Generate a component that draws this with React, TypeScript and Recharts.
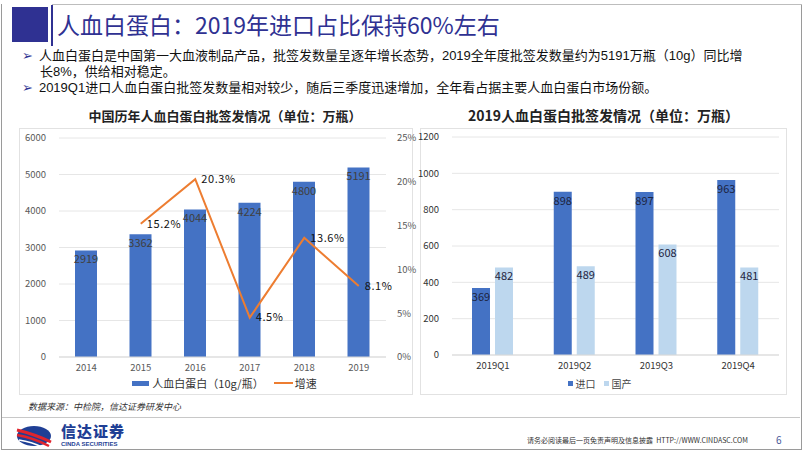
import React from 'react'
import {
  ComposedChart, BarChart, Bar, Line, XAxis, YAxis, CartesianGrid, LabelList, Legend,
} from 'recharts'

// 中国历年人血白蛋白批签发情况（单位：万瓶）
const years = ['2014', '2015', '2016', '2017', '2018', '2019']
const volumes = [2919, 3362, 4044, 4224, 4800, 5191]
const growth: (number | null)[] = [null, 15.2, 20.3, 4.5, 13.6, 8.1]
const leftTicks = [0, 1000, 2000, 3000, 4000, 5000, 6000]
const rightTicks = [0, 5, 10, 15, 20, 25]

// 2019人血白蛋白批签发情况（单位：万瓶）
const quarters = ['2019Q1', '2019Q2', '2019Q3', '2019Q4']
const imported = [369, 898, 897, 963]
const domestic = [482, 489, 608, 481]
const qTicks = [0, 200, 400, 600, 800, 1000, 1200]

const yearData = years.map((y, i) => ({ year: y, volume: volumes[i], growth: growth[i] }))
const quarterData = quarters.map((q, i) => ({ q, imported: imported[i], domestic: domestic[i] }))

const FONT = '"Noto Sans CJK SC", "Noto Sans", sans-serif'
const BLUE = '#4472C4'
const LIGHT = '#BDD7EE'
const ORANGE = '#ED7D31'
const AXIS = { fontSize: 9.5, fill: '#595959', fontFamily: FONT }

const LeftLegend = () => (
  <div style={{ display: 'flex', justifyContent: 'center', alignItems: 'center', height: 12,
    fontSize: 11, color: '#333', fontFamily: FONT, paddingLeft: 15, whiteSpace: 'nowrap' }}>
    <span style={{ width: 17, height: 5, background: BLUE, marginRight: 3 }} />
    <span>人血白蛋白（10g/瓶）</span>
    <span style={{ width: 19, height: 2, background: ORANGE, marginLeft: 10, marginRight: 2 }} />
    <span>增速</span>
  </div>
)

const RightLegend = () => (
  <div style={{ display: 'flex', justifyContent: 'center', alignItems: 'center', height: 12,
    fontSize: 10, color: '#444', fontFamily: FONT, paddingLeft: 4, whiteSpace: 'nowrap' }}>
    <span style={{ width: 5, height: 5, background: BLUE, marginRight: 3 }} />
    <span>进口</span>
    <span style={{ width: 5, height: 5, background: LIGHT, marginLeft: 8, marginRight: 3 }} />
    <span>国产</span>
  </div>
)

const BULLET_FONT = '"Liberation Sans", "Noto Sans CJK SC", sans-serif'

export default function App() {
  return (
    <div style={{ position: 'absolute', left: 0, top: 0, width: 802, height: 451,
      background: '#fff', overflow: 'hidden', fontFamily: FONT }}>
      {/* slide frame */}
      <div style={{ position: 'absolute', left: 1, top: 4, width: 799, height: 445,
        borderLeft: '1px solid #9a9a9a', borderRight: '1px solid #9a9a9a', borderBottom: '1px solid #9a9a9a' }} />
      <div style={{ position: 'absolute', left: 52, top: 4, width: 750, height: 1, background: '#bdbdbd' }} />

      {/* header */}
      <div style={{ position: 'absolute', left: 12, top: 7, width: 36, height: 35, background: '#2f3192' }} />
      <div style={{ position: 'absolute', left: 51, top: 5, width: 2, height: 41, background: '#2f3192' }} />
      <div style={{ position: 'absolute', left: 57, top: 8, fontSize: 23, color: '#2f3192',
        whiteSpace: 'nowrap', lineHeight: '32px' }}>
        人血白蛋白：2019年进口占比保持60%左右
      </div>

      {/* bullets */}
      <div style={{ position: 'absolute', left: 22, top: 48, fontSize: 13, color: '#111',
        lineHeight: '16px', whiteSpace: 'nowrap', fontFamily: BULLET_FONT }}>
        <div><span style={{ fontFamily: 'DejaVu Sans', color: '#2f3192', marginRight: 6 }}>➢</span>人血白蛋白是中国第一大血液制品产品，批签发数量呈逐年增长态势，2019全年度批签发数量约为5191万瓶（10g）同比增</div>
        <div style={{ paddingLeft: 18 }}>长8%，供给相对稳定。</div>
        <div><span style={{ fontFamily: 'DejaVu Sans', color: '#2f3192', marginRight: 6 }}>➢</span>2019Q1进口人血白蛋白批签发数量相对较少，随后三季度迅速增加，全年看占据主要人血白蛋白市场份额。</div>
      </div>

      {/* left chart */}
      <div style={{ position: 'absolute', left: 19, top: 106, width: 394, textAlign: 'center',
        fontSize: 13, fontWeight: 700, color: '#222', paddingLeft: 18, boxSizing: 'border-box' }}>
        中国历年人血白蛋白批签发情况（单位：万瓶）
      </div>
      <div style={{ position: 'absolute', left: 19, top: 128, width: 394, height: 267,
        border: '1px solid #e2e2e2', boxSizing: 'border-box' }} />
      <div style={{ position: 'absolute', left: 16, top: 128 }}>
        <ComposedChart width={402} height={267} data={yearData}
          margin={{ top: 10, right: 0, left: 0, bottom: 6 }}>
          <CartesianGrid vertical={false} stroke="#e6e6e6" yAxisId="l" />
          <XAxis dataKey="year" tick={AXIS} axisLine={{ stroke: '#d9d9d9' }} tickLine={false}
            height={20} tickMargin={1} />
          <YAxis yAxisId="l" domain={[0, 6000]} ticks={leftTicks} width={43} tick={AXIS}
            axisLine={false} tickLine={false} tickMargin={7} />
          <YAxis yAxisId="r" orientation="right" domain={[0, 25]} ticks={rightTicks} width={32}
            tick={AXIS} axisLine={false} tickLine={false} tickMargin={5}
            tickFormatter={(v: number) => `${v}%`} />
          <Legend verticalAlign="bottom" height={12} content={() => <LeftLegend />} />
          <Bar yAxisId="l" dataKey="volume" fill={BLUE} barSize={22} isAnimationActive={false}>
            <LabelList dataKey="volume" position="insideTop" offset={5}
              style={{ fontSize: 11, fill: '#404040', fontFamily: FONT }} />
          </Bar>
          <Line yAxisId="r" dataKey="growth" stroke={ORANGE} strokeWidth={2} dot={false}
            isAnimationActive={false}>
            <LabelList dataKey="growth" position="right" offset={6}
              formatter={(v: any) => (v == null ? '' : `${v}%`)}
              style={{ fontSize: 11, fill: '#111', fontFamily: FONT, letterSpacing: 0.6 }} />
          </Line>
        </ComposedChart>
      </div>

      {/* right chart */}
      <div style={{ position: 'absolute', left: 420, top: 105, width: 367, textAlign: 'center',
        fontSize: 14, fontWeight: 700, color: '#222' }}>
        2019人血白蛋白批签发情况（单位：万瓶）
      </div>
      <div style={{ position: 'absolute', left: 420, top: 128, width: 367, height: 267,
        border: '1px solid #e2e2e2', boxSizing: 'border-box' }} />
      <div style={{ position: 'absolute', left: 416, top: 128 }}>
        <BarChart width={371} height={267} data={quarterData}
          margin={{ top: 9, right: 8, left: 0, bottom: 6 }} barGap={5}>
          <CartesianGrid vertical={false} stroke="#e6e6e6" />
          <XAxis dataKey="q" tick={{ ...AXIS, fill: '#333' }} axisLine={{ stroke: '#d9d9d9' }}
            tickLine={false} height={22} tickMargin={1} />
          <YAxis domain={[0, 1200]} ticks={qTicks} width={36} tick={{ ...AXIS, fill: '#333' }}
            axisLine={false} tickLine={false} tickMargin={7} />
          <Legend verticalAlign="bottom" height={12} content={() => <RightLegend />} />
          <Bar dataKey="imported" fill={BLUE} barSize={18} isAnimationActive={false}>
            <LabelList dataKey="imported" position="insideTop" offset={5}
              style={{ fontSize: 11, fill: '#1d2440', fontFamily: FONT }} />
          </Bar>
          <Bar dataKey="domestic" fill={LIGHT} barSize={18} isAnimationActive={false}>
            <LabelList dataKey="domestic" position="insideTop" offset={5}
              style={{ fontSize: 11, fill: '#1d2440', fontFamily: FONT }} />
          </Bar>
        </BarChart>
      </div>

      {/* footer */}
      <div style={{ position: 'absolute', left: 28, top: 400, fontSize: 9, fontStyle: 'italic',
        color: '#333', whiteSpace: 'nowrap' }}>
        数据来源：中检院，信达证券研发中心
      </div>
      <div style={{ position: 'absolute', left: 2, top: 417, width: 798, height: 1, background: '#c8c8c8' }} />
      <svg style={{ position: 'absolute', left: 14, top: 424 }} width={40} height={24}>
        <ellipse cx={20} cy={12} rx={17} ry={10} fill="#1f3f95" />
        <path d="M3 6 Q20 10 37 18" stroke="#e0242d" strokeWidth={3} fill="none" />
        <path d="M3 11 Q20 14 35 22" stroke="#e0242d" strokeWidth={2.5} fill="none" />
        <path d="M5 16 Q18 18 28 23" stroke="#fff" strokeWidth={1.5} fill="none" />
      </svg>
      <div style={{ position: 'absolute', left: 61, top: 422, fontSize: 15, lineHeight: '18px',
        fontWeight: 900, color: '#1f3f95', letterSpacing: 1, whiteSpace: 'nowrap' }}>信达证券</div>
      <div style={{ position: 'absolute', left: 61, top: 441, fontSize: 6, lineHeight: '7px',
        fontWeight: 700, color: '#1f3f95', whiteSpace: 'nowrap', fontFamily: 'Liberation Sans' }}>CINDA SECURITIES</div>
      <div style={{ position: 'absolute', left: 527, top: 435, fontSize: 7, color: '#333',
        whiteSpace: 'nowrap' }}>请务必阅读最后一页免责声明及信息披露&nbsp;&nbsp;HTTP://WWW.CINDASC.COM</div>
      <div style={{ position: 'absolute', left: 776, top: 432, fontSize: 10, color: '#4a5a9a' }}>6</div>
    </div>
  )
}
